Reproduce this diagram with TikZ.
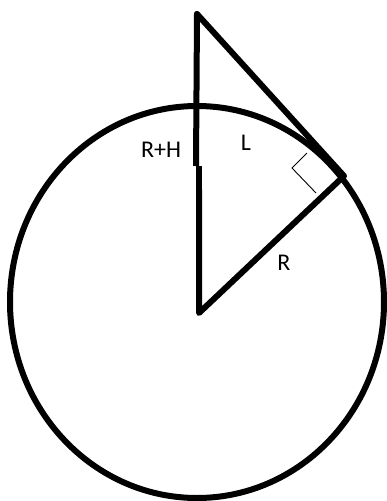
\documentclass[tikz,border=0pt]{standalone}
\usepackage{fontspec}
\setmainfont{Carlito}
\begin{document}
\begin{tikzpicture}[x=1pt,y=-1pt,
  thick line/.style={line width=6pt,line cap=round,line join=round},
  thin line/.style={line width=0.9pt},
  lbl/.style={font=\fontsize{24}{24}\selectfont,inner sep=0pt,text=black}]
\useasboundingbox (0,0) rectangle (387,501);
% earth
\draw[line width=6pt] (197,302) ellipse [x radius=187, y radius=196];
% points
\coordinate (top) at (197,14);
\coordinate (mid1) at (196,166);
\coordinate (mid2) at (199,166);
\coordinate (ctr) at (199,313);
\coordinate (tan) at (344,176);
% triangle
\draw[thick line,line cap=butt] (top) -- (mid1);
\draw[thick line] (top) -- (197,16);
\draw[thick line,line cap=butt] (mid2) -- (199,200);
\draw[thick line] (199,190) -- (ctr) -- (tan) -- (top);
% right angle marker
\coordinate (ra1) at (307,153);
\coordinate (ra2) at (292,168);
\coordinate (ra3) at (316,193);
\draw[thin line] (ra1) -- (ra2) -- (ra3);
% labels
\node[lbl] (rh) at (161,150) {R+H};
\node[lbl] (l) at (246,143) {L};
\node[lbl] (r) at (284,263) {R};
\end{tikzpicture}
\end{document}
